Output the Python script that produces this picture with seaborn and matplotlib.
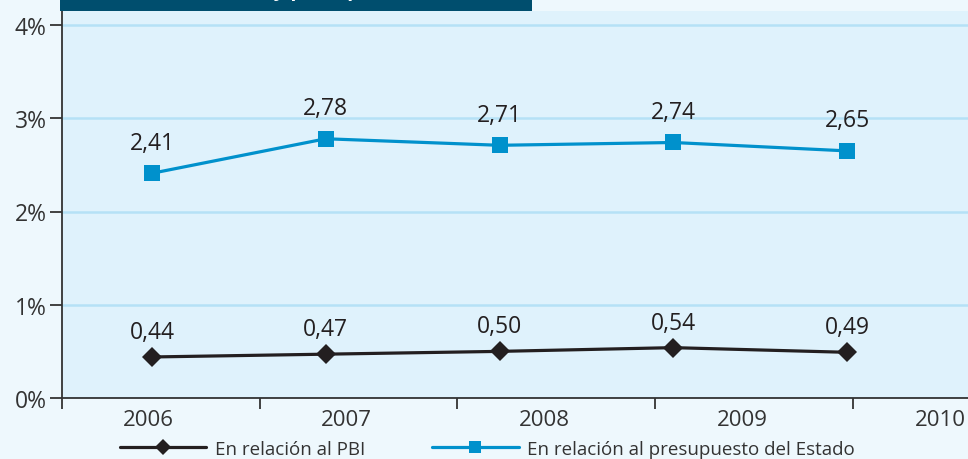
import matplotlib
matplotlib.use("Agg")
import matplotlib.pyplot as plt
from matplotlib.patches import Rectangle
from matplotlib.lines import Line2D
import seaborn as sns
import numpy as np
import pandas as pd

# Data
years = ["2006", "2007", "2008", "2009", "2010"]
pbi = [0.44, 0.47, 0.50, 0.54, 0.49]
presupuesto = [2.41, 2.78, 2.71, 2.74, 2.65]
y_ticks = [0, 1, 2, 3, 4]
y_labels = ["0%", "1%", "2%", "3%", "4%"]

label_pbi = "En relación al PBI"
label_pres = "En relación al presupuesto del Estado"
title = "Gasto en cultura y presupuesto (en %)"

# Colours
fig_bg = "#eef8fd"
plot_bg = "#dff2fc"
grid_col = "#b5e1f6"
blue = "#0091cc"
black = "#231f20"
title_bg = "#004e6e"

sns.set_style("white")
plt.rcParams["font.family"] = ["Open Sans", "DejaVu Sans"]

x = np.arange(len(years))

fig = plt.figure(figsize=(9.68, 4.6), dpi=100, facecolor=fig_bg)
W, H = 968, 460
ax = fig.add_axes([62 / W, 1 - 399 / H, 1 - 62 / W, (399 - 12) / H])
ax.set_facecolor(plot_bg)

# pixel -> data mapping for x (point spacing ~174 px, first point at x=152)
unit = 173.75
def px2x(p):
    return (p - 152) / unit

sns.lineplot(x=x, y=pbi, color=black, marker="D", markersize=10,
             markeredgewidth=0, linewidth=2.3, ax=ax)
sns.lineplot(x=x, y=presupuesto, color=blue, marker="s", markersize=12,
             markeredgewidth=0, linewidth=2.3, ax=ax)

# value labels
for i, v in enumerate(pbi):
    ax.annotate(f"{v:.2f}".replace(".", ","), (i, v), xytext=(0, 18),
                textcoords="offset points", ha="center", va="center",
                fontsize=16.5, color=black)
for i, v in enumerate(presupuesto):
    ax.annotate(f"{v:.2f}".replace(".", ","), (i, v), xytext=(0, 22),
                textcoords="offset points", ha="center", va="center",
                fontsize=16.5, color=black)

ax.set_xlim(px2x(62), px2x(968))
ax.set_ylim(0, 387 / 93.25)

ax.set_yticks(y_ticks)
ax.set_yticklabels(y_labels)
ax.yaxis.grid(True, color=grid_col, linewidth=1.8)
ax.set_axisbelow(True)

# tick marks and year labels are offset from each other in the original
ax.set_xticks([px2x(p) for p in [62, 260, 457, 655, 853]])
ax.set_xticklabels([])
ax.set_xticks([px2x(p) for p in [148, 346, 544, 742, 940]], minor=True)
ax.set_xticklabels(years, minor=True)
ax.tick_params(axis="x", which="major", length=8, width=1.3, color="#333333",
               direction="out", bottom=True)
ax.tick_params(axis="x", which="minor", length=0, pad=8, labelsize=16,
               labelcolor="#333333")
ax.tick_params(axis="y", length=9, width=1.3, color="#333333", direction="out",
               left=True, pad=2, labelsize=16.5, labelcolor="#333333")

for s in ["top", "right"]:
    ax.spines[s].set_visible(False)
for s in ["left", "bottom"]:
    ax.spines[s].set_color("#333333")
    ax.spines[s].set_linewidth(1.3)

# legend below plot
handles = [
    Line2D([], [], color=black, linewidth=2.3, marker="D", markersize=8,
           markeredgewidth=0),
    Line2D([], [], color=blue, linewidth=2.3, marker="s", markersize=9,
           markeredgewidth=0),
]
fig.legend(handles, [label_pbi, label_pres], loc="center left",
           bbox_to_anchor=(103 / W, 1 - 450 / H), ncol=2, frameon=False,
           fontsize=13.5, handlelength=4.6, handletextpad=0.45,
           columnspacing=3.6, labelcolor="#333333")

# title box (cut off at the top of the picture)
fig.patches.append(Rectangle((60 / W, 1 - 12 / H), (532 - 60) / W, 12 / H,
                             transform=fig.transFigure, facecolor=title_bg,
                             edgecolor="none", zorder=5))
fig.text(102 / W, 1 + 4 / H, title,
         color="white", fontsize=14.5, fontweight="bold", va="baseline", ha="left",
         zorder=6)

fig.savefig("out.png", dpi=100, facecolor=fig_bg)
